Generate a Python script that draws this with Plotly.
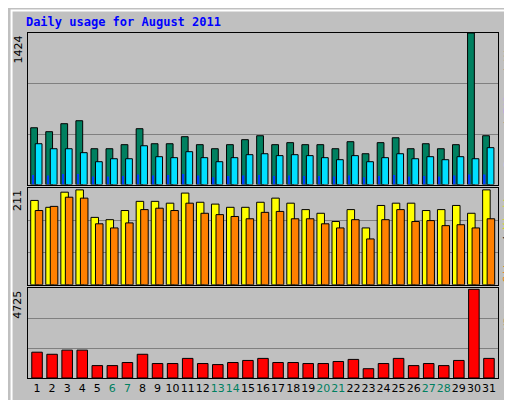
import plotly.graph_objs as go
from plotly.subplots import make_subplots

days = list(range(1, 32))
weekend = [6, 7, 13, 14, 20, 21, 27, 28]

hits = [534, 497, 572, 600, 337, 337, 375, 525, 384, 384, 450, 375, 337, 375, 422,
        459, 375, 394, 375, 375, 337, 403, 290, 394, 440, 337, 384, 337, 375, 1424, 459]
files = [384, 337, 337, 300, 215, 243, 243, 365, 262, 253, 309, 253, 215, 253, 281,
         290, 272, 281, 272, 253, 234, 272, 215, 253, 290, 243, 262, 234, 262, 243, 347]
pages = [90, 85, 100, 100, 75, 75, 80, 95, 85, 90, 100, 85, 70, 80, 85,
         90, 80, 85, 80, 80, 75, 85, 70, 80, 90, 75, 80, 75, 85, 95, 95]
visits = [184, 169, 202, 207, 147, 142, 162, 182, 182, 178, 200, 180, 176, 169, 169,
          180, 189, 178, 164, 156, 138, 164, 124, 173, 178, 178, 162, 164, 173, 156, 207]
sites = [162, 171, 191, 189, 133, 124, 135, 164, 167, 162, 178, 156, 153, 149, 144,
         158, 160, 144, 144, 133, 124, 142, 100, 142, 164, 138, 140, 129, 131, 124, 144]
kbytes = [1358, 1249, 1467, 1467, 652, 652, 815, 1249, 761, 761, 1032, 761, 706, 815, 924,
          1032, 815, 815, 761, 761, 869, 978, 489, 761, 1032, 652, 761, 652, 924, 4670, 1032]

max_top, max_mid, max_bot = 1424, 211, 4725

fig = make_subplots(rows=3, cols=1, shared_xaxes=True, vertical_spacing=0.01,
                    row_heights=[152, 97, 90])
line = dict(color='black', width=1)

fig.add_trace(go.Bar(x=days, y=hits, width=0.45, offset=-0.42, marker=dict(color='#008060', line=line)), 1, 1)
fig.add_trace(go.Bar(x=days, y=files, width=0.45, offset=-0.12, marker=dict(color='#00E0FF', line=line)), 1, 1)
fig.add_trace(go.Bar(x=days, y=pages, width=0.1, offset=-0.33, marker=dict(color='#0040FF', line=dict(width=0))), 1, 1)
fig.add_trace(go.Bar(x=days, y=visits, width=0.5, offset=-0.42, marker=dict(color='#FFFF00', line=line)), 2, 1)
fig.add_trace(go.Bar(x=days, y=sites, width=0.5, offset=-0.12, marker=dict(color='#FF8000', line=line)), 2, 1)
fig.add_trace(go.Bar(x=days, y=kbytes, width=0.7, marker=dict(color='#FF0000', line=line)), 3, 1)

ticktext = [f"<span style='color:#008060'>{d}</span>" if d in weekend else str(d) for d in days]

fig.update_layout(
    barmode='overlay', showlegend=False,
    width=512, height=400,
    paper_bgcolor='#C0C0C0', plot_bgcolor='#C0C0C0',
    margin=dict(l=20, r=22, t=25, b=30),
    font=dict(family='DejaVu Sans', size=11, color='black'),
    title=dict(text='<b>Daily usage for August 2011</b>', x=0.035, y=0.975, xanchor='left', yanchor='top',
               font=dict(family='DejaVu Sans Mono', size=12, color='#0000FF')),
)
for r in (1, 2, 3):
    fig.update_xaxes(range=[0.4, 31.6], showgrid=False, showline=True, linecolor='black',
                     mirror=True, ticks='', row=r, col=1)
fig.update_xaxes(tickvals=days, ticktext=ticktext, tickangle=0, tickfont=dict(size=11), row=3, col=1)
for r, m in ((1, max_top), (2, max_mid), (3, max_bot)):
    fig.update_yaxes(range=[0, m], tickvals=[m / 3, 2 * m / 3], showticklabels=False,
                     gridcolor='#808080', gridwidth=1, showline=True, linecolor='black',
                     mirror=True, zeroline=False, row=r, col=1)

ann = [
    (1, max_top, "<span style='color:#00C0FF'>Pages</span> / <span style='color:#0040FF'>Files</span> / <span style='color:#008060'>Hits</span>"),
    (2, max_mid, "<span style='color:#FF8000'>Sites</span> / <span style='color:#E0E000'>Visits</span>"),
    (3, max_bot, "<span style='color:#FF0000'>KBytes</span>"),
]
for r, m, lab in ann:
    yref = 'y' if r == 1 else f'y{r}'
    fig.add_annotation(x=0, xref='paper', xanchor='right', xshift=-2, y=m, yref=yref, yanchor='top',
                       text=str(m), textangle=-90, showarrow=False, font=dict(size=11))
    fig.add_annotation(x=1, xref='paper', xanchor='center', xshift=10, y=m, yref=yref, yanchor='top',
                       text=lab, textangle=-90, showarrow=False,
                       font=dict(family='DejaVu Sans Mono', size=11))

fig.add_shape(type='rect', xref='paper', yref='paper', x0=-0.035, x1=1.04, y0=-0.075, y1=1.065,
              line=dict(color='white', width=2), layer='below')

fig.write_html("out.html")
